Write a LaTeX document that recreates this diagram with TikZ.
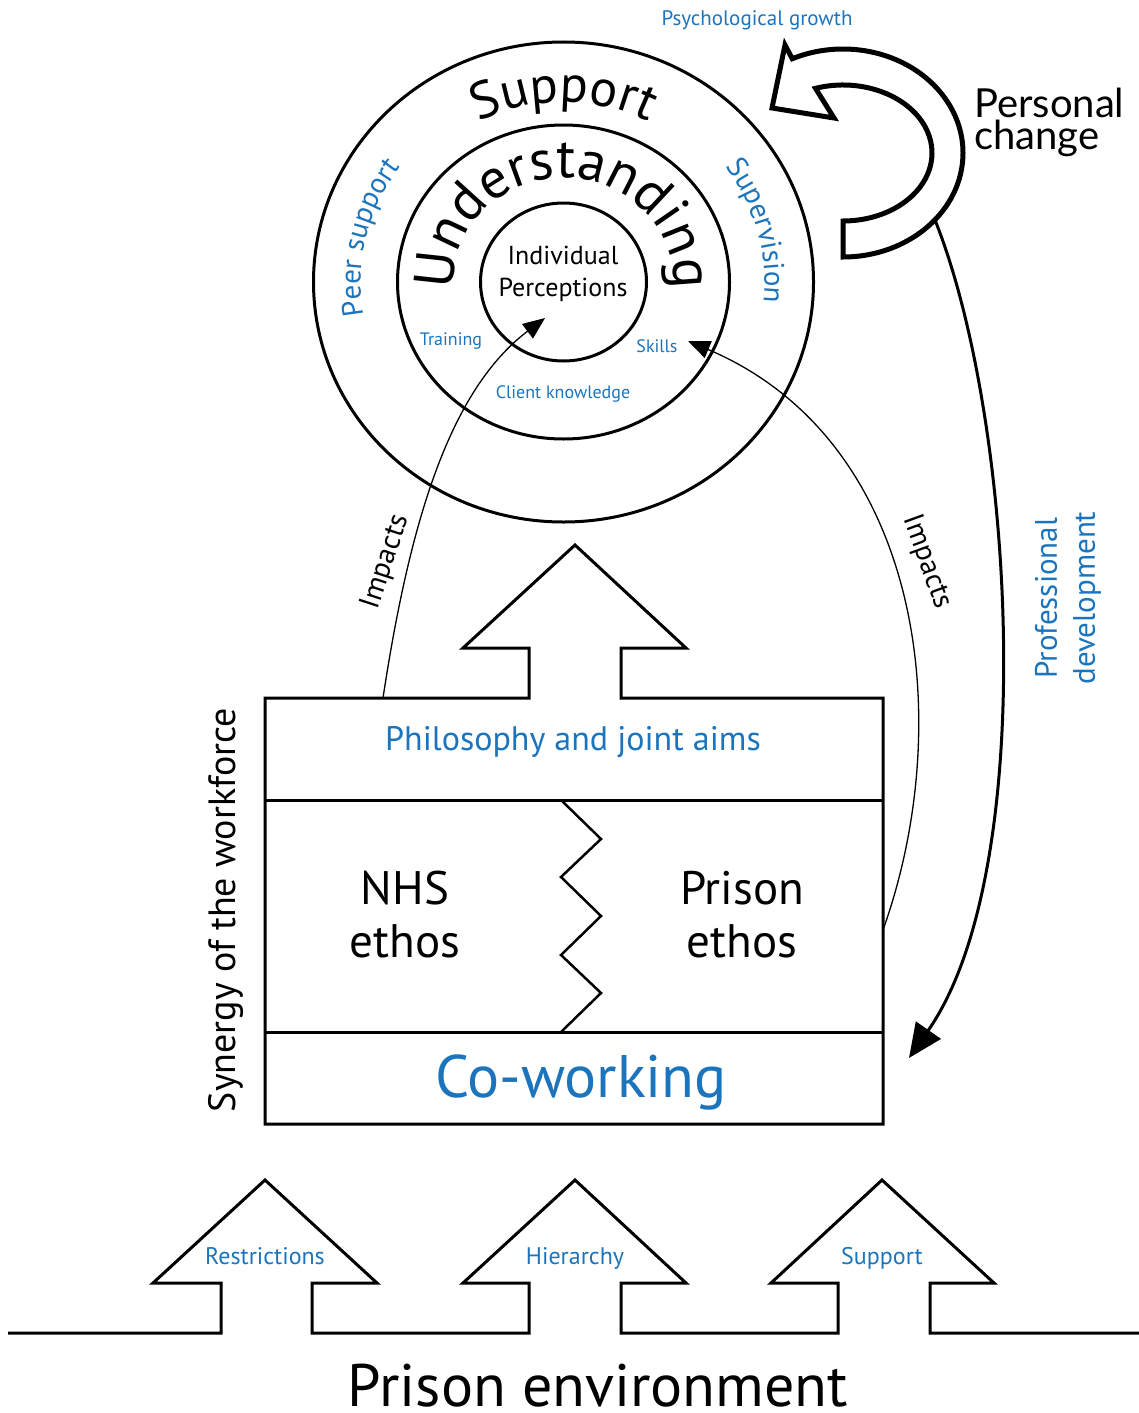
\documentclass[tikz,border=0pt]{standalone}
\usepackage{fontspec}
\setmainfont{PT Sans}
\newfontfamily\latofont{Lato}
\usetikzlibrary{arrows.meta,decorations.text,calc}
\definecolor{dblue}{RGB}{28,117,188}
\newcommand\fsz[2]{\fontsize{#1}{#2}\selectfont}
\begin{document}
\begin{tikzpicture}[x=1pt,y=-1pt,
  bl/.style={line width=3pt, line join=miter},
  conn/.style={line width=1.3pt},
  lbl/.style={inner sep=0pt},
  blbl/.style={inner sep=0pt, text=dblue},
  arctext/.style={decorate, decoration={text along path, text align=center, text={#1}}},
]
\useasboundingbox (0,0) rectangle (1139,1413);
\fill[white] (0,0) rectangle (1139,1413);

% ---------- circles ----------
\coordinate (C) at (563.5,282);
\draw[bl] (C) ellipse [x radius=250, y radius=240];
\draw[bl] (C) ellipse [x radius=166, y radius=157];
\draw[bl] (C) ellipse [x radius=83, y radius=79];

\path[arctext={|\fsz{52}{60}|Support}] ($(C)+(215:187 and 180)$) arc[start angle=215, end angle=325, x radius=187, y radius=180];
\path[arctext={|\fsz{56}{60}|Understanding}] ($(C)+(170:110 and 104)$) arc[start angle=170, end angle=370, x radius=110, y radius=104];
\path[arctext={|\color{dblue}\fsz{29}{32}|Peer support}] ($(C)+(148:203 and 193)$) arc[start angle=148, end angle=238, x radius=203, y radius=193];
\path[arctext={|\color{dblue}\fsz{29}{32}|Supervision}] ($(C)+(300:201 and 193)$) arc[start angle=300, end angle=390, x radius=201, y radius=193];

\node[lbl, align=center, font={\fsz{26}{32}}] (ip) at (563,274) {Individual\\Perceptions};
\node[blbl, font={\fsz{18}{20}}, anchor=base] (tr) at (451,345) {Training};
\node[blbl, font={\fsz{18}{20}}, anchor=base] (sk) at (657,352) {Skills};
\node[blbl, font={\fsz{18}{20}}, anchor=base] (ck) at (563,398) {Client knowledge};

% ---------- top right ----------
\node[blbl, font={\fsz{21}{24}}, anchor=base] (pg) at (757,26) {Psychological growth};
\node[lbl, font={\latofont\fsz{40}{32}}, align=left, anchor=west] (pc) at (974,122) {Personal\\change};

\coordinate (pd0) at (935,220);
\coordinate (pd1) at (909,1058);
\draw[line width=3pt, -{Triangle[length=34pt,width=30pt]}] (pd0) .. controls (1015,420) and (1040,870) .. (pd1);
\node[blbl, rotate=90, align=center, font={\fsz{31}{38}}] (pdl) at (1068,598) {Professional\\development};

\draw[line width=5pt, fill=white, line join=miter]
  (843,257) arc[start angle=90, end angle=-115, x radius=120, y radius=104]
  -- (785,45) -- (772,108) -- (834,118)
  -- ($(843,153)+(-108:89 and 68)$) arc[start angle=-108, end angle=90, x radius=89, y radius=68]
  -- cycle;

% ---------- central box ----------
\draw[bl] (529,698) -- (529,648) -- (463,648) -- (575,545) -- (686,648) -- (621,648) -- (621,698)
  -- (883,698) -- (883,1124) -- (265,1124) -- (265,698) -- cycle;
\draw[bl] (265,800) -- (883,800);
\draw[bl] (265,1032) -- (883,1032);
\draw[line width=2.5pt, line join=miter] (561,800) -- (601,839) -- (561,877) -- (601,916) -- (561,955) -- (601,993) -- (561,1032);

\node[blbl, font={\fsz{34}{40}}, anchor=base] (philo) at (573,750) {Philosophy and joint aims};
\node[lbl, align=center, font={\fsz{47}{53}}] (nhs) at (405,915) {NHS\\ethos};
\node[lbl, align=center, font={\fsz{47}{53}}] (pris) at (742,915) {Prison\\ethos};
\node[blbl, font={\fsz{60}{66}}, anchor=base] (cow) at (581,1097) {Co-working};
\node[lbl, rotate=90, font={\fsz{38}{44}}] (syn) at (226,910) {Synergy of the workforce};

% ---------- impacts ----------
\coordinate (iL0) at (383,698);
\coordinate (iL1) at (545,318);
\draw[conn, -{Triangle[length=22pt,width=18pt]}] (iL0) .. controls (410,520) and (450,390) .. (iL1);
\node[lbl, rotate=72, font={\fsz{29}{30}}] (impL) at (386,562) {Impacts};

\coordinate (iR0) at (883,930);
\coordinate (iR1) at (688,341);
\draw[conn, -{Triangle[length=22pt,width=18pt]}] (iR0) .. controls (958,720) and (922,440) .. (iR1);
\node[lbl, rotate=-70, font={\fsz{29}{30}}] (impR) at (927,562) {Impacts};

% ---------- prison environment ----------
\draw[bl] (8,1333) -- (221,1333) -- (221,1283) -- (153,1283) -- (265,1180) -- (377,1283) -- (312,1283) -- (312,1333)
  -- (529,1333) -- (529,1283) -- (463,1283) -- (575,1180) -- (686,1283) -- (621,1283) -- (621,1333)
  -- (838,1333) -- (838,1283) -- (771,1283) -- (882,1180) -- (994,1283) -- (930,1283) -- (930,1333) -- (1139,1333);
\node[blbl, font={\fsz{24}{28}}, anchor=base] (res) at (265,1264) {Restrictions};
\node[blbl, font={\fsz{24}{28}}, anchor=base] (hie) at (575,1264) {Hierarchy};
\node[blbl, font={\fsz{24}{28}}, anchor=base] (sup) at (882,1264) {Support};
\node[lbl, font={\fsz{60}{66}}, anchor=base] (env) at (598,1406) {Prison environment};
\end{tikzpicture}
\end{document}
